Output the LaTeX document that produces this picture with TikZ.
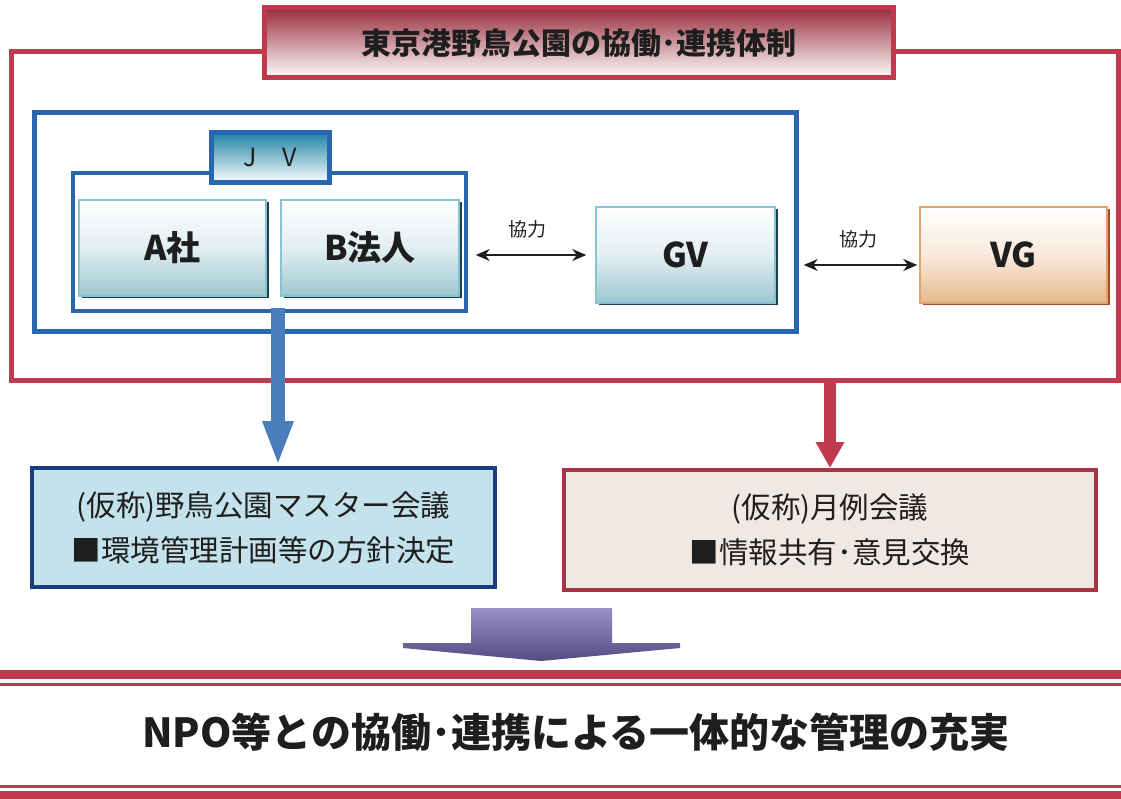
\documentclass[tikz,border=0pt]{standalone}
\usepackage{fontspec}
\setmainfont{Noto Sans CJK JP}
\usetikzlibrary{positioning,arrows.meta,shadows}
\usepackage{xcolor}
\definecolor{fred}{HTML}{BE3A4C}
\definecolor{fblue}{HTML}{2A66B0}
\definecolor{jvteal}{HTML}{1E84A4}
\definecolor{teal1}{HTML}{9CC7D0}
\definecolor{tealb}{HTML}{86C3D3}
\definecolor{tshad}{HTML}{1F3F4C}
\definecolor{tan1}{HTML}{E6B98A}
\definecolor{tanb}{HTML}{E2A46A}
\definecolor{tshad2}{HTML}{A84A2C}
\definecolor{lblue}{HTML}{C3E2EB}
\definecolor{navy}{HTML}{1B3C7C}
\definecolor{beige}{HTML}{EFE8E3}
\definecolor{dred}{HTML}{A63446}
\definecolor{purp}{HTML}{7A6AB8}
\definecolor{ink}{HTML}{1E1E1E}
\newcommand{\fsz}[1]{\fontsize{#1}{#1}\selectfont}

\begin{document}
\begin{tikzpicture}[x=1pt,y=-1pt,
    fr/.style={draw=#1,line width=5pt,inner sep=0pt},%
    cell/.style={draw=tealb,line width=1.5pt,top color=white,bottom color=teal1,middle color=white!70!teal1,
      minimum width=#1,minimum height=96pt,inner sep=0pt,text=ink,font=\bfseries\fsz{34},
      drop shadow={shadow xshift=2.5pt,shadow yshift=-2.5pt,fill=tshad,opacity=1}},%
    mtg/.style={line width=4pt,inner sep=0pt,align=center,text=ink,font=\fsz{29.5}},%
    dbl/.style={{Stealth[length=14pt,width=12pt]}-{Stealth[length=14pt,width=12pt]},line width=2pt,ink},%
    p/.style={font=\fsz{19},text=ink,inner sep=3pt}]
    \useasboundingbox (0,0) rectangle (1121,799);
    \fill[white] (0,0) rectangle (1121,799);

    % frames
    \node[fr=fred,minimum width=1107pt,minimum height=328pt] (frame) at (564.5,216) {};
    \node[draw=fred,line width=5pt,top color=fred!80!black,middle color=fred!30!white,bottom color=white,
      minimum width=629pt,minimum height=70pt,inner sep=0pt,text=ink,font=\bfseries\fsz{30}] (title) at (578.5,43) {東京港野鳥公園の協働･連携体制};
    \node[fr=fblue,minimum width=762pt,minimum height=219pt] (blue) at (415,222.5) {};
    \node[draw=fblue,line width=4.5pt,minimum width=393pt,minimum height=138pt,inner sep=0pt] (jv) at (269.5,242) {};
    \node[draw=fblue,line width=5pt,top color=jvteal,bottom color=white,minimum width=118pt,minimum height=50pt,
      inner sep=0pt,text=ink,font=\fsz{25}] (jvlab) at (270,158) {J　V};

    % members
    \node[cell=187pt] (A) at (172.5,248) {A社};
    \node[cell=178pt] (B) at (370,248) {B法人};
    \node[cell=179pt] (GV) at (685.5,255) {GV};
    \node[cell=187pt,draw=tanb,bottom color=tan1,middle color=white!70!tan1,
      drop shadow={shadow xshift=2.5pt,shadow yshift=-2.5pt,fill=tshad2,opacity=1}] (VG) at (1013.5,255) {VG};

    \draw[dbl,shorten <=16pt,shorten >=9pt] (B.east |- GV.west) -- (GV.west) node[p,midway,above=13pt]{協力};
    \draw[dbl,shorten <=28pt,shorten >=2pt] ([yshift=-10pt]GV.east) -- ([yshift=-10pt]VG.west) node[p,pos=0.58,above=13pt]{協力};

    % meetings
    \node[mtg,draw=navy,fill=lblue,minimum width=463pt,minimum height=119pt] (mtgL) at (263.5,527.5)
      {(仮称)野鳥公園マスター会議\\[13pt]■環境管理計画等の方針決定};
    \node[mtg,draw=dred,fill=beige,minimum width=532pt,minimum height=120pt] (mtgR) at (830,530)
      {(仮称)月例会議\\[13pt]■情報共有･意見交換};

    \draw[line width=14pt,fblue!85!white,-{Triangle[length=45pt,width=28pt]}]
      ([xshift=8.5pt,yshift=5pt]jv.south) -- ([xshift=8.5pt]jv.south |- mtgL.north);
    \draw[line width=12pt,fred,-{Triangle[length=26pt,width=27pt]}] (mtgR.north |- frame.south) -- (mtgR.north);

    % result
    \shade[top color=purp!75!white,bottom color=purp!70!black]
      (471,608) -- (612,608) -- (612,643) -- (680,643) -- (680,648) -- (541,661)
      -- (403,648) -- (403,643) -- (471,643) -- cycle;
    \fill[fred] (0,670) rectangle (1121,679);
    \fill[fred] (0,682.5) rectangle (1121,686);
    \node[text=ink,font=\bfseries\fsz{40}] (goal) at (576,732) {NPO等との協働･連携による一体的な管理の充実};
    \fill[fred] (0,784.5) rectangle (1121,787.5);
    \fill[fred] (0,791) rectangle (1121,799);
\end{tikzpicture}
\end{document}
